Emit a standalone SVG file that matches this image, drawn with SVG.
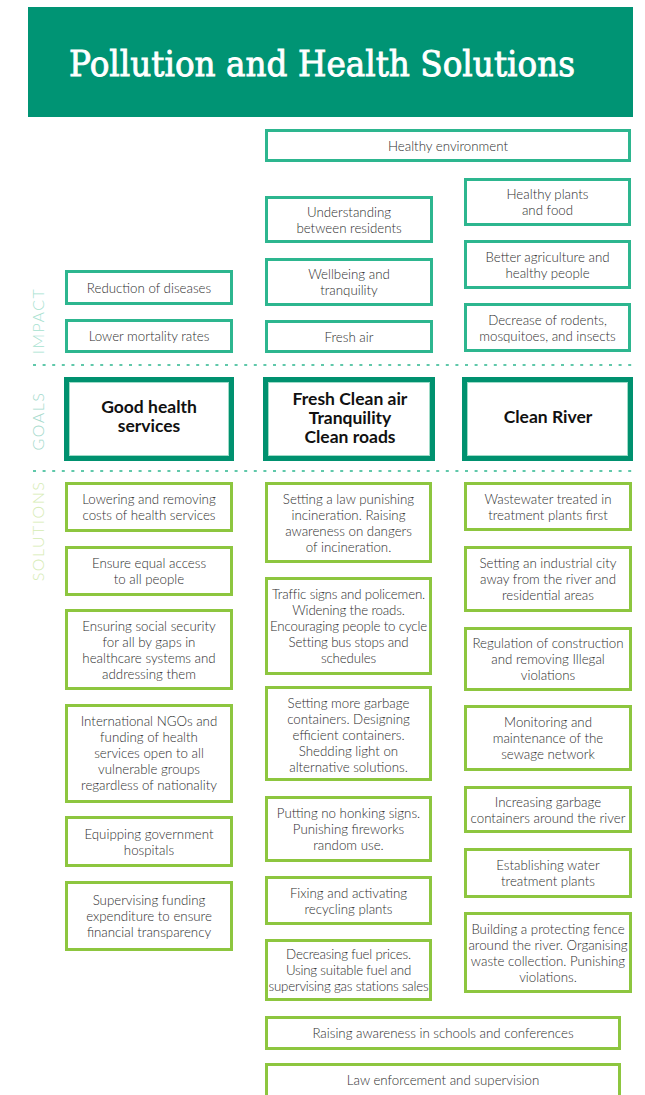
<svg xmlns="http://www.w3.org/2000/svg" width="645" height="1095" viewBox="0 0 645 1095">
<style>
.t{font-family:Lato,"Open Sans","Liberation Sans",sans-serif;font-size:13.3px;font-weight:300;fill:#2e2e2e;text-anchor:middle}
.g{font-family:Lato,"Open Sans","Liberation Sans",sans-serif;font-size:17.5px;font-weight:bold;fill:#111;text-anchor:middle}
.imp{fill:#fff;stroke:#2db68f;stroke-width:3}
.goal{fill:#fff;stroke:#00916f;stroke-width:5}
.goalin{fill:none;stroke:#9fdcc8;stroke-width:1}
.sol{fill:#fff;stroke:#8dc63f;stroke-width:3}
.side{font-family:Lato,"Open Sans","Liberation Sans",sans-serif;font-size:16px;font-weight:300;letter-spacing:1.5px;text-anchor:middle}
.dash{stroke:#2db68f;stroke-width:1.5;stroke-dasharray:3 6.6}
</style>
<rect width="645" height="1095" fill="#fff"/>
<g id="header">
<rect x="28" y="7" width="605" height="110" fill="#009474"/>
<text x="69" y="76" font-family="'DejaVu Serif','Liberation Serif',serif" font-size="36" fill="#fff" stroke="#fff" stroke-width="0.9" textLength="506" lengthAdjust="spacingAndGlyphs">Pollution and Health Solutions</text>
</g>
<g id="separators">
<line class="dash" x1="33" y1="365" x2="633" y2="365"/>
<line class="dash" x1="33" y1="471" x2="633" y2="471"/>
</g>
<g id="side-labels">
<text class="side" transform="translate(44,321) rotate(-90)" fill="#a6e1cf">IMPACT</text>
<text class="side" transform="translate(44,421) rotate(-90)" fill="#a3d9cb">GOALS</text>
<text class="side" transform="translate(44,531) rotate(-90)" fill="#d5ebb3">SOLUTIONS</text>
</g>
<g id="impact-healthy-environment"><rect class="imp" x="266.5" y="130.5" width="363" height="30"/><text class="t" x="448" y="151">Healthy environment</text></g>
<g id="impact-understanding"><rect class="imp" x="266.5" y="197.5" width="165" height="44"/><text class="t" x="349" y="216.5">Understanding<tspan x="349" dy="16">between residents</tspan></text></g>
<g id="impact-plants"><rect class="imp" x="465.5" y="179.5" width="164" height="45"/><text class="t" x="547.5" y="199">Healthy plants<tspan x="547.5" dy="16">and food</tspan></text></g>
<g id="impact-agriculture"><rect class="imp" x="465.5" y="241.5" width="164" height="46"/><text class="t" x="547.5" y="261.5">Better agriculture and<tspan x="547.5" dy="16">healthy people</tspan></text></g>
<g id="impact-diseases"><rect class="imp" x="66.5" y="271.5" width="165" height="32"/><text class="t" x="149" y="292.5">Reduction of diseases</text></g>
<g id="impact-wellbeing"><rect class="imp" x="266.5" y="259.5" width="165" height="45"/><text class="t" x="349" y="279">Wellbeing and<tspan x="349" dy="16">tranquility</tspan></text></g>
<g id="impact-rodents"><rect class="imp" x="465.5" y="304.5" width="164" height="46"/><text class="t" x="547.5" y="324.5">Decrease of rodents,<tspan x="547.5" dy="16">mosquitoes, and insects</tspan></text></g>
<g id="impact-mortality"><rect class="imp" x="66.5" y="320.5" width="165" height="31"/><text class="t" x="149" y="341">Lower mortality rates</text></g>
<g id="impact-fresh-air"><rect class="imp" x="266.5" y="321.5" width="165" height="30"/><text class="t" x="349" y="341.5">Fresh air</text></g>
<g id="goal-health"><rect class="goal" x="66.5" y="379.5" width="165" height="79"/><rect class="goalin" x="69.5" y="382.5" width="159" height="73"/><text class="g" x="149" y="413">Good health<tspan x="149" dy="19">services</tspan></text></g>
<g id="goal-air"><rect class="goal" x="265.5" y="379.5" width="167" height="79"/><rect class="goalin" x="268.5" y="382.5" width="161" height="73"/><text class="g" x="350" y="405">Fresh Clean air<tspan x="350" dy="19">Tranquility</tspan><tspan x="350" dy="19">Clean roads</tspan></text></g>
<g id="goal-river"><rect class="goal" x="464.5" y="379.5" width="166" height="79"/><rect class="goalin" x="467.5" y="382.5" width="160" height="73"/><text class="g" x="548" y="423">Clean River</text></g>
<g id="sol-costs"><rect class="sol" x="66.5" y="483.5" width="165" height="47"/><text class="t" x="149" y="504">Lowering and removing<tspan x="149" dy="16">costs of health services</tspan></text></g>
<g id="sol-access"><rect class="sol" x="66.5" y="547.5" width="165" height="47"/><text class="t" x="149" y="568">Ensure equal access<tspan x="149" dy="16">to all people</tspan></text></g>
<g id="sol-security"><rect class="sol" x="66.5" y="610.5" width="165" height="78"/><text class="t" x="149" y="630.5">Ensuring social security<tspan x="149" dy="16">for all by gaps in</tspan><tspan x="149" dy="16">healthcare systems and</tspan><tspan x="149" dy="16">addressing them</tspan></text></g>
<g id="sol-ngos"><rect class="sol" x="66.5" y="705.5" width="165" height="96"/><text class="t" x="149" y="726">International NGOs and<tspan x="149" dy="16">funding of health</tspan><tspan x="149" dy="16">services open to all</tspan><tspan x="149" dy="16">vulnerable groups</tspan><tspan x="149" dy="16">regardless of nationality</tspan></text></g>
<g id="sol-hospitals"><rect class="sol" x="66.5" y="817.5" width="165" height="48"/><text class="t" x="149" y="838.5">Equipping government<tspan x="149" dy="16">hospitals</tspan></text></g>
<g id="sol-funding"><rect class="sol" x="66.5" y="882.5" width="165" height="67"/><text class="t" x="149" y="904.5">Supervising funding<tspan x="149" dy="16">expenditure to ensure</tspan><tspan x="149" dy="16">financial  transparency</tspan></text></g>
<g id="sol-incineration"><rect class="sol" x="266.5" y="483.5" width="164" height="78"/><text class="t" x="348.5" y="503.5">Setting a law punishing<tspan x="348.5" dy="16">incineration. Raising</tspan><tspan x="348.5" dy="16">awareness on dangers</tspan><tspan x="348.5" dy="16">of incineration.</tspan></text></g>
<g id="sol-traffic"><rect class="sol" x="266.5" y="578.5" width="164" height="95"/><text class="t" x="348.5" y="599" letter-spacing="-0.15">Traffic signs and policemen.<tspan x="348.5" dy="16">Widening the roads.</tspan><tspan x="348.5" dy="16">Encouraging people to cycle</tspan><tspan x="348.5" dy="16">Setting bus stops and</tspan><tspan x="348.5" dy="16">schedules</tspan></text></g>
<g id="sol-garbage"><rect class="sol" x="266.5" y="687.5" width="164" height="92"/><text class="t" x="348.5" y="707.5">Setting more garbage<tspan x="348.5" dy="16">containers. Designing</tspan><tspan x="348.5" dy="16">efficient containers.</tspan><tspan x="348.5" dy="16">Shedding light on</tspan><tspan x="348.5" dy="16">alternative solutions.</tspan></text></g>
<g id="sol-honking"><rect class="sol" x="266.5" y="797.5" width="164" height="63"/><text class="t" x="348.5" y="818">Putting no honking signs.<tspan x="348.5" dy="16">Punishing fireworks</tspan><tspan x="348.5" dy="16">random use.</tspan></text></g>
<g id="sol-recycling"><rect class="sol" x="266.5" y="877.5" width="164" height="46"/><text class="t" x="348.5" y="897.5">Fixing and activating<tspan x="348.5" dy="16">recycling plants</tspan></text></g>
<g id="sol-fuel"><rect class="sol" x="266.5" y="940.5" width="164" height="59"/><text class="t" x="348.5" y="959" letter-spacing="-0.2">Decreasing fuel prices.<tspan x="348.5" dy="16">Using suitable fuel and</tspan><tspan x="348.5" dy="16">supervising gas stations sales</tspan></text></g>
<g id="sol-wastewater"><rect class="sol" x="465.5" y="483.5" width="165" height="46"/><text class="t" x="548" y="503.5">Wastewater treated in<tspan x="548" dy="16">treatment plants first</tspan></text></g>
<g id="sol-industrial"><rect class="sol" x="465.5" y="547.5" width="165" height="63"/><text class="t" x="548" y="568">Setting an industrial city<tspan x="548" dy="16">away from the river and</tspan><tspan x="548" dy="16">residential areas</tspan></text></g>
<g id="sol-construction"><rect class="sol" x="465.5" y="628.5" width="165" height="61"/><text class="t" x="548" y="648">Regulation of construction<tspan x="548" dy="16">and removing Illegal</tspan><tspan x="548" dy="16">violations</tspan></text></g>
<g id="sol-sewage"><rect class="sol" x="465.5" y="706.5" width="165" height="63"/><text class="t" x="548" y="727">Monitoring and<tspan x="548" dy="16">maintenance of the</tspan><tspan x="548" dy="16">sewage network</tspan></text></g>
<g id="sol-river-garbage"><rect class="sol" x="465.5" y="787.5" width="165" height="44"/><text class="t" x="548" y="806.5">Increasing garbage<tspan x="548" dy="16">containers around the river</tspan></text></g>
<g id="sol-water-plants"><rect class="sol" x="465.5" y="849.5" width="165" height="47"/><text class="t" x="548" y="870">Establishing water<tspan x="548" dy="16">treatment plants</tspan></text></g>
<g id="sol-fence"><rect class="sol" x="465.5" y="913.5" width="165" height="78"/><text class="t" x="548" y="933.5">Building a protecting fence<tspan x="548" dy="16">around the river. Organising</tspan><tspan x="548" dy="16">waste collection. Punishing</tspan><tspan x="548" dy="16">violations.</tspan></text></g>
<g id="sol-awareness"><rect class="sol" x="266.5" y="1017.5" width="353" height="31"/><text class="t" x="443" y="1038">Raising awareness in schools and conferences</text></g>
<g id="sol-law"><rect class="sol" x="266.5" y="1064.5" width="353" height="45"/><text class="t" x="443" y="1085">Law enforcement and supervision</text></g>
<g id="connectors"></g>
</svg>
